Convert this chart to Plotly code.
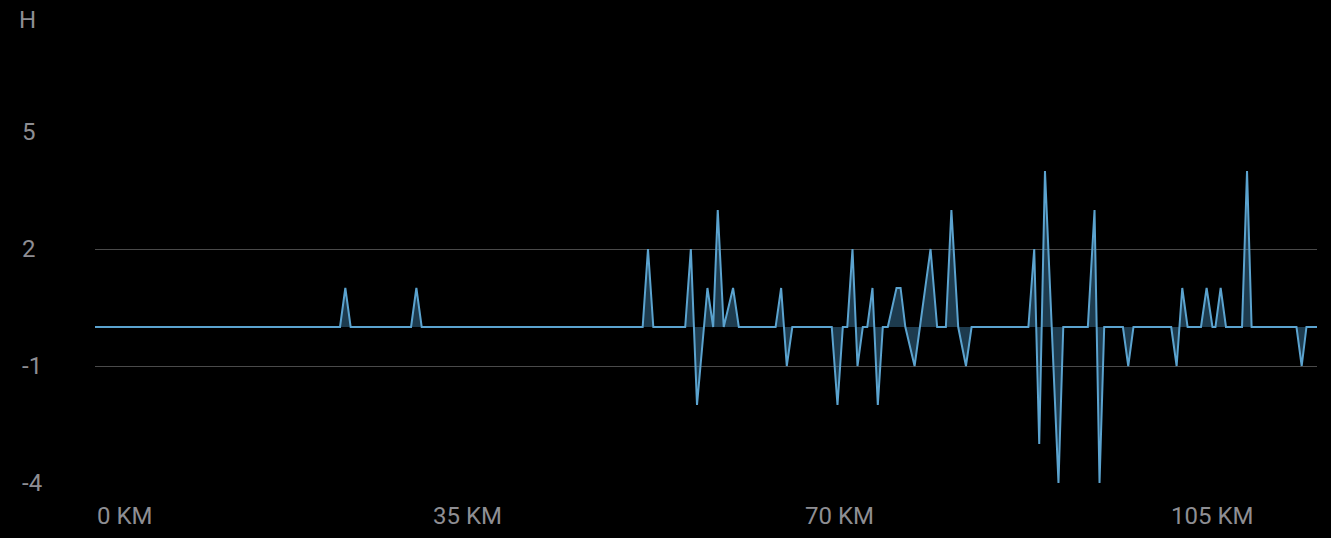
import plotly.graph_objects as go

# distance (km) and value (H) at each vertex of the trace
km = [0, 23.04, 23.54, 24.04, 29.72, 30.22, 30.72,
      51.5, 52.0, 52.5, 55.5, 56.03, 56.61, 57.59, 58.13, 58.56, 59.12, 60.0, 60.54,
      64.0, 64.52, 65.05, 65.57,
      69.28, 69.82, 70.32, 70.74, 71.23, 71.70, 72.2, 72.62, 73.11, 73.61, 74.08,
      74.55, 75.37, 75.75, 76.2, 77.07, 78.57, 79.19, 79.54, 80.01, 80.53, 81.17,
      81.9, 82.43,
      87.77, 88.32, 88.79, 89.33, 90.6, 91.05,
      93.36, 93.99, 94.46, 94.9,
      96.66, 97.16, 97.65,
      101.2, 101.71, 102.24, 102.74, 104.0, 104.53, 105.08, 105.36, 105.85, 106.35,
      107.86, 108.33, 108.76,
      112.98, 113.47, 113.92, 114.91]
h = [0, 0, 1, 0, 0, 1, 0,
     0, 2, 0, 0, 2, -2, 1, 0, 3, 0, 1, 0,
     0, 1, -1, 0,
     0, -2, 0, 0, 2, -1, 0, 0, 1, -2, 0,
     0, 1, 1, 0, -1, 2, 0, 0, 0, 3, 0,
     -1, 0,
     0, 2, -3, 4, -4, 0,
     0, 3, -4, 0,
     0, -1, 0,
     0, -1, 1, 0, 0, 1, 0, 0, 1, 0,
     0, 4, 0,
     0, -1, 0, 0]

y_ticks = [5, 2, -1, -4]
x_ticks = [0, 35, 70, 105]
x_tick_text = ["0 KM", "35 KM", "70 KM", "105 KM"]
y_title = "H"

LINE = "#5ba3cf"
FILL = "rgba(70,140,185,0.42)"
GRID = "#4a4a4a"
TEXT = "#8e8e93"
FONT = "Roboto"

fig = go.Figure()
fig.add_trace(go.Scatter(
    x=km, y=h, mode="lines",
    line=dict(color=LINE, width=2, shape="linear"),
    fill="tozeroy", fillcolor=FILL, hoverinfo="skip", showlegend=False,
))

annotations = []
for i, (v, t) in enumerate(zip(x_ticks, x_tick_text)):
    annotations.append(dict(
        x=v, xref="x", y=0, yref="paper", yshift=-33,
        text=t, showarrow=False, xanchor="left" if i == 0 else "center",
        yanchor="middle", font=dict(family=FONT, size=24, color=TEXT),
    ))
for v in y_ticks:
    annotations.append(dict(
        x=0, xref="paper", xshift=-75, y=v, yref="y",
        text=str(v), showarrow=False, xanchor="left", yanchor="middle",
        font=dict(family=FONT, size=24, color=TEXT),
    ))
annotations.append(dict(
    x=0, xref="paper", xshift=-78, y=1, yref="paper", yshift=112,
    text=y_title, showarrow=False, xanchor="left", yanchor="middle",
    font=dict(family=FONT, size=24, color=TEXT),
))

fig.update_layout(
    width=1331, height=538,
    margin=dict(l=95, r=14, t=132, b=55),
    paper_bgcolor="black", plot_bgcolor="black",
    annotations=annotations,
    xaxis=dict(range=[0, 114.91], showgrid=False, zeroline=False,
               showticklabels=False, showline=False, fixedrange=True),
    yaxis=dict(range=[-4, 5], tickvals=y_ticks, showticklabels=False,
               showgrid=True, gridcolor=GRID, gridwidth=1,
               zeroline=False, showline=False, fixedrange=True),
)

fig.write_html(
    "out.html",
    config={"displayModeBar": False},
    post_script="document.body.style.margin='0';document.body.style.background='black';",
)
